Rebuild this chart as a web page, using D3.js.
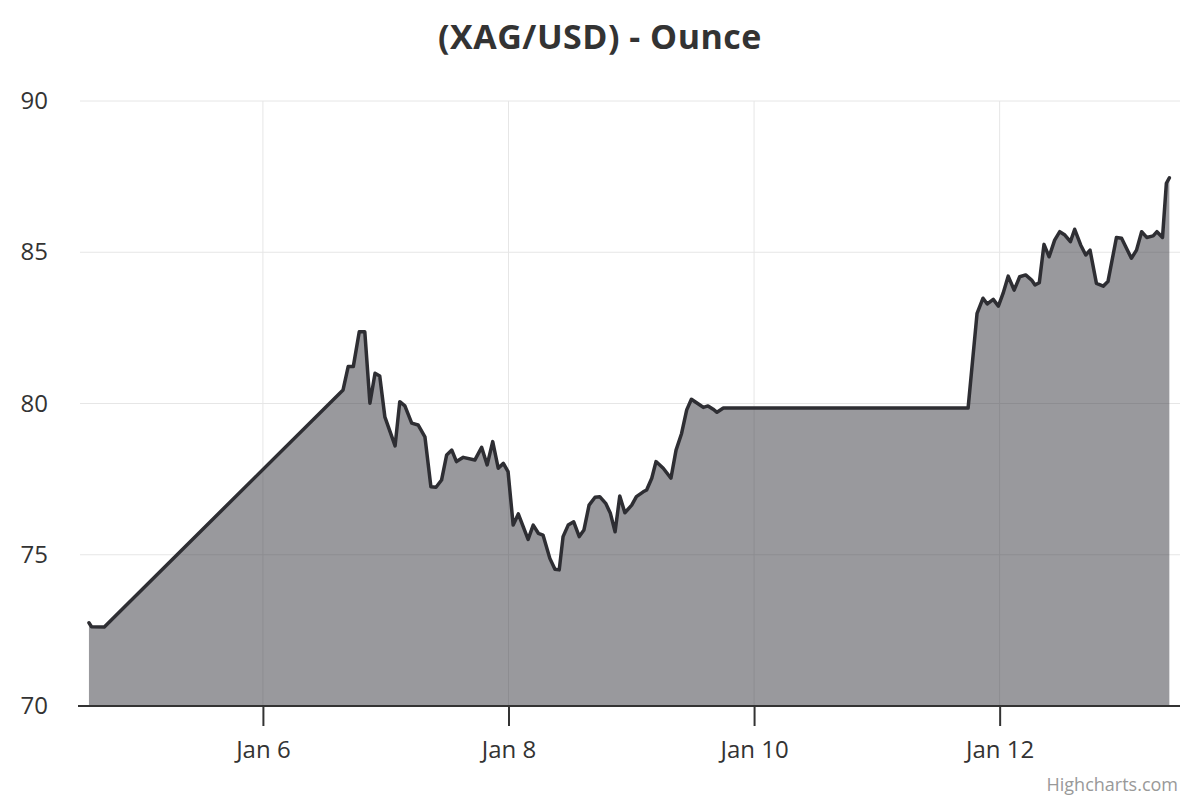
<!DOCTYPE html>
<html>
<head>
<meta charset="utf-8">
<script src="https://cdn.jsdelivr.net/npm/d3@7"></script>
<style>
  body { margin: 0; background: #fff; }
  svg { display: block; font-family: "Open Sans", sans-serif; }
</style>
</head>
<body>
<svg width="1200" height="800"></svg>
<script>
// price data (time, silver price per ounce)
var times = [
  "2026-01-04T14:00", "2026-01-04T14:30", "2026-01-04T17:00",
  "2026-01-06T15:40", "2026-01-06T16:40", "2026-01-06T17:40", "2026-01-06T18:50",
  "2026-01-06T19:55", "2026-01-06T20:55", "2026-01-06T21:55", "2026-01-06T22:50",
  "2026-01-06T23:50", "2026-01-07T01:50", "2026-01-07T02:45", "2026-01-07T03:45",
  "2026-01-07T05:05", "2026-01-07T06:20", "2026-01-07T07:40", "2026-01-07T08:50",
  "2026-01-07T09:50", "2026-01-07T10:55", "2026-01-07T11:55", "2026-01-07T12:55",
  "2026-01-07T13:50", "2026-01-07T15:10", "2026-01-07T17:25", "2026-01-07T18:45",
  "2026-01-07T19:50", "2026-01-07T20:55", "2026-01-07T22:00", "2026-01-07T23:00",
  "2026-01-07T23:55", "2026-01-08T00:55", "2026-01-08T01:55", "2026-01-08T03:50",
  "2026-01-08T04:50", "2026-01-08T05:50", "2026-01-08T06:45", "2026-01-08T08:05",
  "2026-01-08T09:05", "2026-01-08T09:55", "2026-01-08T10:40", "2026-01-08T11:40",
  "2026-01-08T12:45", "2026-01-08T13:50", "2026-01-08T14:45", "2026-01-08T15:45",
  "2026-01-08T16:55", "2026-01-08T17:50", "2026-01-08T19:00", "2026-01-08T19:55",
  "2026-01-08T20:50", "2026-01-08T21:45", "2026-01-08T22:45", "2026-01-09T00:05",
  "2026-01-09T01:00", "2026-01-09T02:20", "2026-01-09T03:00", "2026-01-09T04:00",
  "2026-01-09T04:50", "2026-01-09T06:15", "2026-01-09T07:45", "2026-01-09T08:45",
  "2026-01-09T09:50", "2026-01-09T10:50", "2026-01-09T11:45", "2026-01-09T13:25",
  "2026-01-09T14:05", "2026-01-09T15:00", "2026-01-09T16:00", "2026-01-09T16:45",
  "2026-01-09T18:00", "2026-01-11T17:50", "2026-01-11T19:35", "2026-01-11T20:45",
  "2026-01-11T21:35", "2026-01-11T22:45", "2026-01-11T23:45", "2026-01-12T00:40",
  "2026-01-12T01:40", "2026-01-12T02:50", "2026-01-12T03:55", "2026-01-12T05:05",
  "2026-01-12T06:15", "2026-01-12T06:55", "2026-01-12T07:45", "2026-01-12T08:40",
  "2026-01-12T09:40", "2026-01-12T10:45", "2026-01-12T11:45", "2026-01-12T12:45",
  "2026-01-12T13:50", "2026-01-12T14:40", "2026-01-12T15:50", "2026-01-12T16:50",
  "2026-01-12T17:40", "2026-01-12T18:55", "2026-01-12T20:15", "2026-01-12T21:10",
  "2026-01-12T22:50", "2026-01-12T23:50", "2026-01-13T01:45", "2026-01-13T02:45",
  "2026-01-13T03:45", "2026-01-13T04:45", "2026-01-13T06:00", "2026-01-13T06:45",
  "2026-01-13T07:50", "2026-01-13T08:35", "2026-01-13T09:10"
];
var prices = [
  72.75, 72.62, 72.61,
  80.45, 81.22, 81.22, 82.37,
  82.37, 80.01, 81.00, 80.91,
  79.56, 78.60, 80.06, 79.92,
  79.35, 79.29, 78.90, 77.25,
  77.23, 77.47, 78.30, 78.46,
  78.08, 78.22, 78.13, 78.55,
  77.97, 78.74, 77.86, 78.02,
  77.75, 75.98, 76.35, 75.51,
  75.98, 75.71, 75.65, 74.88,
  74.52, 74.50, 75.60, 75.98,
  76.09, 75.60, 75.82, 76.64,
  76.90, 76.92, 76.70, 76.37,
  75.76, 76.94, 76.39, 76.64,
  76.92, 77.08, 77.14, 77.53,
  78.08, 77.86, 77.53, 78.46,
  79.01, 79.79, 80.14, 79.95,
  79.87, 79.92, 79.81, 79.71,
  79.85, 79.85, 82.98, 83.48,
  83.29, 83.44, 83.22, 83.64,
  84.21, 83.75, 84.19, 84.25,
  84.08, 83.92, 83.99, 85.26,
  84.85, 85.40, 85.68, 85.57,
  85.35, 85.76, 85.24, 84.91,
  85.07, 83.97, 83.88, 84.03,
  85.49, 85.46, 84.80, 85.07,
  85.68, 85.49, 85.54, 85.68,
  85.49, 87.28, 87.46
];
var yTicks = [70, 75, 80, 85, 90];
var xTicks = ["2026-01-06", "2026-01-08", "2026-01-10", "2026-01-12"];
var xExtent = ["2026-01-04T12:15", "2026-01-13T11:15"];

var parseTime = d3.timeParse("%Y-%m-%dT%H:%M");
var parseDay = d3.timeParse("%Y-%m-%d");

var data = times.map(function(t, i) {
  return { date: parseTime(t), price: prices[i] };
});

var svg = d3.select("svg"),
    plotLeft = 80, plotRight = 1180, plotTop = 101, plotBottom = 706;

var x = d3.scaleTime()
    .domain(xExtent.map(parseTime))
    .range([plotLeft, plotRight]);
var y = d3.scaleLinear().domain([70, 90]).range([plotBottom, plotTop]);

// grid lines
svg.append("g")
   .selectAll("line")
   .data(yTicks)
   .enter()
   .append("line")
   .attr("x1", plotLeft)
   .attr("x2", plotRight)
   .attr("y1", function(d) { return y(d); })
   .attr("y2", function(d) { return y(d); })
   .attr("stroke", "#e6e6e6")
   .attr("stroke-width", 1);

svg.append("g")
   .selectAll("line")
   .data(xTicks.map(parseDay))
   .enter()
   .append("line")
   .attr("x1", function(d) { return x(d); })
   .attr("x2", function(d) { return x(d); })
   .attr("y1", plotTop)
   .attr("y2", plotBottom)
   .attr("stroke", "#e6e6e6")
   .attr("stroke-width", 1);

// area + line
var area = d3.area()
    .x(function(d) { return x(d.date); })
    .y0(y(70))
    .y1(function(d) { return y(d.price); });

var line = d3.line()
    .x(function(d) { return x(d.date); })
    .y(function(d) { return y(d.price); });

svg.append("path")
   .datum(data)
   .attr("d", area)
   .attr("fill", "#34333c")
   .attr("fill-opacity", 0.5);

svg.append("path")
   .datum(data)
   .attr("d", line)
   .attr("fill", "none")
   .attr("stroke", "#2e2e33")
   .attr("stroke-width", 3.5)
   .attr("stroke-linejoin", "round")
   .attr("stroke-linecap", "round");

// x axis
var xAxis = svg.append("g")
   .attr("transform", "translate(0," + plotBottom + ")")
   .call(d3.axisBottom(x)
      .tickValues(xTicks.map(parseDay))
      .tickSize(20)
      .tickPadding(15)
      .tickFormat(d3.timeFormat("%b %-d")));
xAxis.select(".domain")
   .attr("stroke", "#333")
   .attr("stroke-width", 2)
   .attr("d", "M" + (plotLeft - 2) + ",0H" + plotRight);
xAxis.selectAll(".tick line").attr("stroke", "#333").attr("stroke-width", 2);
xAxis.selectAll("text")
   .attr("fill", "#333")
   .attr("font-size", "24px")
   .attr("font-family", "Open Sans, sans-serif");

// y axis labels
var yAxis = svg.append("g")
   .attr("transform", "translate(" + plotLeft + ",0)")
   .call(d3.axisLeft(y).tickValues(yTicks).tickSize(0).tickPadding(32));
yAxis.select(".domain").remove();
yAxis.selectAll("text")
   .attr("fill", "#333")
   .attr("font-size", "24px")
   .attr("font-family", "Open Sans, sans-serif");

// title
svg.append("text")
   .attr("x", 600)
   .attr("y", 49)
   .attr("text-anchor", "middle")
   .attr("font-size", "34px")
   .attr("font-weight", "bold")
   .attr("letter-spacing", "0.5px")
   .attr("fill", "#333")
   .text("(XAG/USD) - Ounce");

// credits
svg.append("text")
   .attr("x", 1178)
   .attr("y", 791)
   .attr("text-anchor", "end")
   .attr("font-size", "18px")
   .attr("fill", "#999")
   .text("Highcharts.com");
</script>
</body>
</html>
